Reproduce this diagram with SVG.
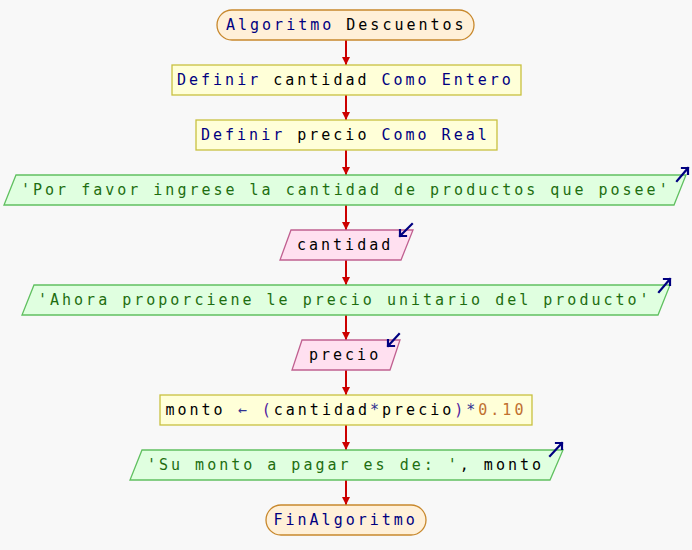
<svg xmlns="http://www.w3.org/2000/svg" width="692" height="550" viewBox="0 0 692 550">
<defs>
<style>
text{font-family:"DejaVu Sans Mono","Liberation Mono",monospace;font-size:15px;letter-spacing:3px;}
.kw{fill:#000080}
.id{fill:#000000}
.str{fill:#1e6e10}
.op{fill:#303090}
.par{fill:#5020a0}
.num{fill:#c07030}
.term{fill:#fff0d8;stroke:#c8882c;stroke-width:1.3}
.proc{fill:#ffffd8;stroke:#c8c040;stroke-width:1.3}
.out{fill:#e0ffe0;stroke:#60c060;stroke-width:1.3}
.inp{fill:#ffe0f0;stroke:#c06090;stroke-width:1.3}
.conn{stroke:#cc0000;stroke-width:2;fill:none}
.ico{stroke:#000080;stroke-width:2.2;fill:none;stroke-linecap:square}
</style>
<marker id="ah" viewBox="0 0 10 10" refX="10" refY="5" markerWidth="4" markerHeight="4" orient="auto" markerUnits="strokeWidth">
<path d="M0,0 L10,5 L0,10 z" fill="#cc0000"/>
</marker>
</defs>
<rect x="0" y="0" width="692" height="550" fill="#f8f8f8"/>
<g id="connectors">
<line class="conn" x1="346" y1="40" x2="346" y2="65" marker-end="url(#ah)"/>
<line class="conn" x1="346" y1="95" x2="346" y2="120" marker-end="url(#ah)"/>
<line class="conn" x1="346" y1="150" x2="346" y2="175" marker-end="url(#ah)"/>
<line class="conn" x1="346" y1="205" x2="346" y2="230" marker-end="url(#ah)"/>
<line class="conn" x1="346" y1="260" x2="346" y2="285" marker-end="url(#ah)"/>
<line class="conn" x1="346" y1="315" x2="346" y2="340" marker-end="url(#ah)"/>
<line class="conn" x1="346" y1="370" x2="346" y2="395" marker-end="url(#ah)"/>
<line class="conn" x1="346" y1="425" x2="346" y2="450" marker-end="url(#ah)"/>
<line class="conn" x1="346" y1="480" x2="346" y2="505" marker-end="url(#ah)"/>
</g>
<g id="start">
<rect class="term" x="217" y="10" width="257" height="30" rx="15"/>
<text x="226" y="30"><tspan class="kw">Algoritmo</tspan> <tspan class="id">Descuentos</tspan></text>
</g>
<g id="def1">
<rect class="proc" x="172" y="65" width="349" height="30"/>
<text x="177" y="85"><tspan class="kw">Definir</tspan> <tspan class="id">cantidad</tspan> <tspan class="kw">Como Entero</tspan></text>
</g>
<g id="def2">
<rect class="proc" x="196" y="120" width="301" height="30"/>
<text x="201" y="140"><tspan class="kw">Definir</tspan> <tspan class="id">precio</tspan> <tspan class="kw">Como Real</tspan></text>
</g>
<g id="out1">
<polygon class="out" points="16,175 686,175 674,205 4,205"/>
<text x="21" y="195" class="str">'Por favor ingrese la cantidad de productos que posee'</text>
<path class="ico" d="M677,181 L688,168 M682,168 L688,168 L688,174"/>
</g>
<g id="in1">
<polygon class="inp" points="291,230 413,230 401,260 280,260"/>
<text x="297" y="250" class="id">cantidad</text>
<path class="ico" d="M412,224 L400,236 M400,230 L400,236 L406,236"/>
</g>
<g id="out2">
<polygon class="out" points="34,285 670,285 658,315 22,315"/>
<text x="38" y="305" class="str">'Ahora proporciene le precio unitario del producto'</text>
<path class="ico" d="M659,292 L670,279 M664,279 L670,279 L670,285"/>
</g>
<g id="in2">
<polygon class="inp" points="302,340 400,340 390,370 292,370"/>
<text x="309" y="360" class="id">precio</text>
<path class="ico" d="M399,334 L388,346 M388,340 L388,346 L394,346"/>
</g>
<g id="proc">
<rect class="proc" x="160" y="395" width="372" height="30"/>
<text x="165.5" y="415"><tspan class="id">monto</tspan> <tspan class="op">←</tspan> <tspan class="par">(</tspan><tspan class="id">cantidad</tspan><tspan class="op">*</tspan><tspan class="id">precio</tspan><tspan class="par">)</tspan><tspan class="op">*</tspan><tspan class="num">0.10</tspan></text>
</g>
<g id="out3">
<polygon class="out" points="142,450 563,450 550,480 130,480"/>
<text x="147" y="470"><tspan class="str">'Su monto a pagar es de: '</tspan><tspan class="id">, monto</tspan></text>
<path class="ico" d="M550,456 L562,443 M556,443 L562,443 L562,449"/>
</g>
<g id="end">
<rect class="term" x="266" y="505" width="160" height="30" rx="15"/>
<text x="273.5" y="525" class="kw">FinAlgoritmo</text>
</g>
</svg>
